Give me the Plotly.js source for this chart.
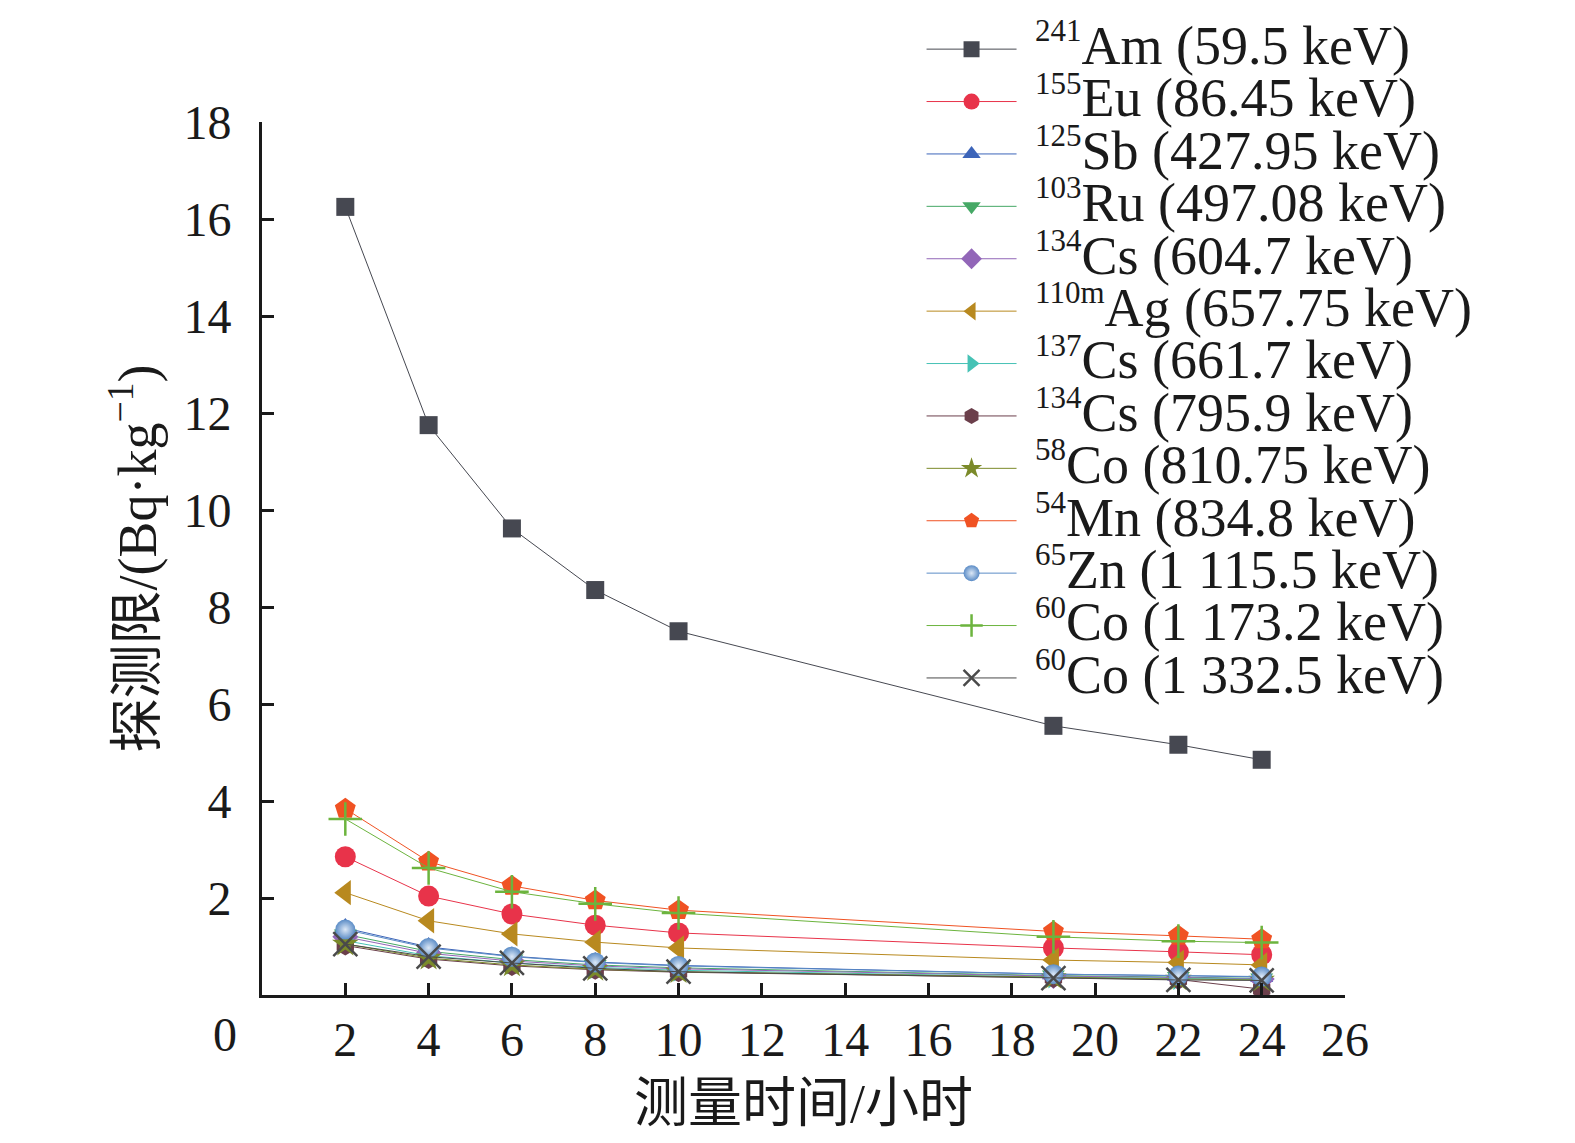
<!DOCTYPE html>
<html><head><meta charset="utf-8">
<script src="https://cdn.plot.ly/plotly-3.0.1.min.js"></script>
<style>html,body{margin:0;padding:0;background:#fff}#chart{width:1575px;height:1143px}</style>
</head><body><div id="chart"></div>
<script>
const hours = [2, 4, 6, 8, 10, 19, 22, 24];
const am241 = [16.25, 11.75, 9.62, 8.35, 7.5, 5.55, 5.16, 4.85];
const eu155 = [2.85, 2.04, 1.67, 1.44, 1.28, 0.97, 0.89, 0.83];
const sb125 = [1.38, 0.99, 0.8, 0.68, 0.61, 0.43, 0.4, 0.37];
const ru103 = [1.25, 0.9, 0.73, 0.62, 0.56, 0.4, 0.37, 0.34];
const cs134a = [1.2, 0.86, 0.7, 0.6, 0.54, 0.39, 0.36, 0.33];
const ag110m = [2.11, 1.53, 1.26, 1.09, 0.97, 0.72, 0.67, 0.62];
const cs137 = [1.12, 0.81, 0.66, 0.57, 0.51, 0.37, 0.34, 0.32];
const cs134b = [1.02, 0.74, 0.6, 0.52, 0.47, 0.35, 0.32, 0.12];
const co58 = [1.05, 0.76, 0.62, 0.53, 0.48, 0.36, 0.33, 0.31];
const mn54 = [3.84, 2.75, 2.25, 1.95, 1.75, 1.31, 1.22, 1.15];
const zn65 = [1.35, 0.97, 0.79, 0.67, 0.6, 0.43, 0.4, 0.38];
const co60a = [3.63, 2.62, 2.13, 1.88, 1.69, 1.2, 1.11, 1.08];
const co60b = [1.05, 0.79, 0.66, 0.55, 0.48, 0.35, 0.31, 0.3];

const xTicks = [2,4,6,8,10,12,14,16,18,20,22,24,26];
const yTicks = [2,4,6,8,10,12,14,16,18];

const isotopes = ['241','155','125','103','134','110m','137','134','58','54','65','60','60'];
const labels = ['Am (59.5 keV)','Eu (86.45 keV)','Sb (427.95 keV)','Ru (497.08 keV)',
  'Cs (604.7 keV)','Ag (657.75 keV)','Cs (661.7 keV)','Cs (795.9 keV)','Co (810.75 keV)',
  'Mn (834.8 keV)','Zn (1 115.5 keV)','Co (1 173.2 keV)','Co (1 332.5 keV)'];
const seriesData = [am241, eu155, sb125, ru103, cs134a, ag110m, cs137, cs134b, co58, mn54, zn65, co60a, co60b];
const styles = [
  {c:'#464851', s:'square', z:18, w:1},
  {c:'#e8334a', s:'circle', z:21, w:1},
  {c:'#3c64b9', s:'triangle-up', z:20, w:1},
  {c:'#45a865', s:'triangle-down', z:20, w:1},
  {c:'#9266b8', s:'diamond', z:20, w:1},
  {c:'#b8891f', s:'triangle-left', z:22, w:1},
  {c:'#46c2b5', s:'triangle-right', z:20, w:1},
  {c:'#6b3f4b', s:'hexagon', z:20, w:1},
  {c:'#7b8a2a', s:'star', z:20, w:1},
  {c:'#f05223', s:'pentagon', z:22, w:1},
  {c:'#5b8cc6', s:'circle', z:20, grad:true, w:1},
  {c:'#6cb43e', s:'cross-thin', z:24, open:true, w:1},
  {c:'#4a4a4a', s:'x-thin', z:24, open:true, w:1}
];

const traces = seriesData.map((ys, i) => {
  const st = styles[i];
  const m = {symbol: st.s, size: st.z, color: st.c};
  if (st.open) m.line = {color: st.c, width: 2.5};
  if (st.grad) m.gradient = {type: 'radial', color: '#dce8f6'};
  return {
    x: hours, y: ys, type: 'scatter', mode: 'lines+markers',
    name: '<span style="font-size:54px">\u00a0<sup><span style="font-size:31px">' + isotopes[i] +
          '</span></sup>' + labels[i] + '</span>',
    line: {color: st.c, width: st.w},
    marker: m
  };
});

const serif = 'Liberation Serif, Times New Roman, serif';
const cjk = 'Liberation Serif, Noto Sans CJK SC, serif';

const layout = {
  width: 1575, height: 1143,
  margin: {l: 262, r: 230, t: 15, b: 148, autoexpand: false},
  paper_bgcolor: '#fff', plot_bgcolor: '#fff',
  showlegend: true,
  legend: {
    x: 0.609, y: 0.997, xanchor: 'left', yanchor: 'top',
    font: {family: serif, size: 38, color: '#1a1a1a'},
    itemwidth: 90, bgcolor: 'rgba(0,0,0,0)', tracegroupgap: 0
  },
  xaxis: {
    range: [0, 26], tickvals: xTicks, ticktext: xTicks.map(String),
    showline: true, linecolor: '#1a1a1a', linewidth: 3,
    ticks: 'inside', ticklen: 12, tickwidth: 3, tickcolor: '#1a1a1a',
    showgrid: false, zeroline: false,
    tickfont: {family: serif, size: 48, color: '#1a1a1a'},
    ticklabelstandoff: 0,
    title: {text: '测量时间/小时', font: {family: cjk, size: 54, color: '#1a1a1a'}, standoff: 20}
  },
  yaxis: {
    domain: [0, 0.8908],
    range: [0, 18], tickvals: yTicks, ticktext: yTicks.map(String),
    showline: true, linecolor: '#1a1a1a', linewidth: 3,
    ticks: 'inside', ticklen: 12, tickwidth: 3, tickcolor: '#1a1a1a',
    showgrid: false, zeroline: false,
    tickfont: {family: serif, size: 48, color: '#1a1a1a'},
    ticklabelstandoff: 18,
    title: {text: '探测限/(Bq·kg<sup>−1</sup>)', font: {family: cjk, size: 54, color: '#1a1a1a'}, standoff: 10}
  },
  annotations: [{
    text: '0', xref: 'paper', yref: 'paper', x: -0.034, y: -0.0408,
    xanchor: 'center', yanchor: 'middle', showarrow: false,
    font: {family: serif, size: 48, color: '#1a1a1a'}
  }]
};

Plotly.newPlot('chart', traces, layout, {displayModeBar: false, staticPlot: true});
</script></body></html>
